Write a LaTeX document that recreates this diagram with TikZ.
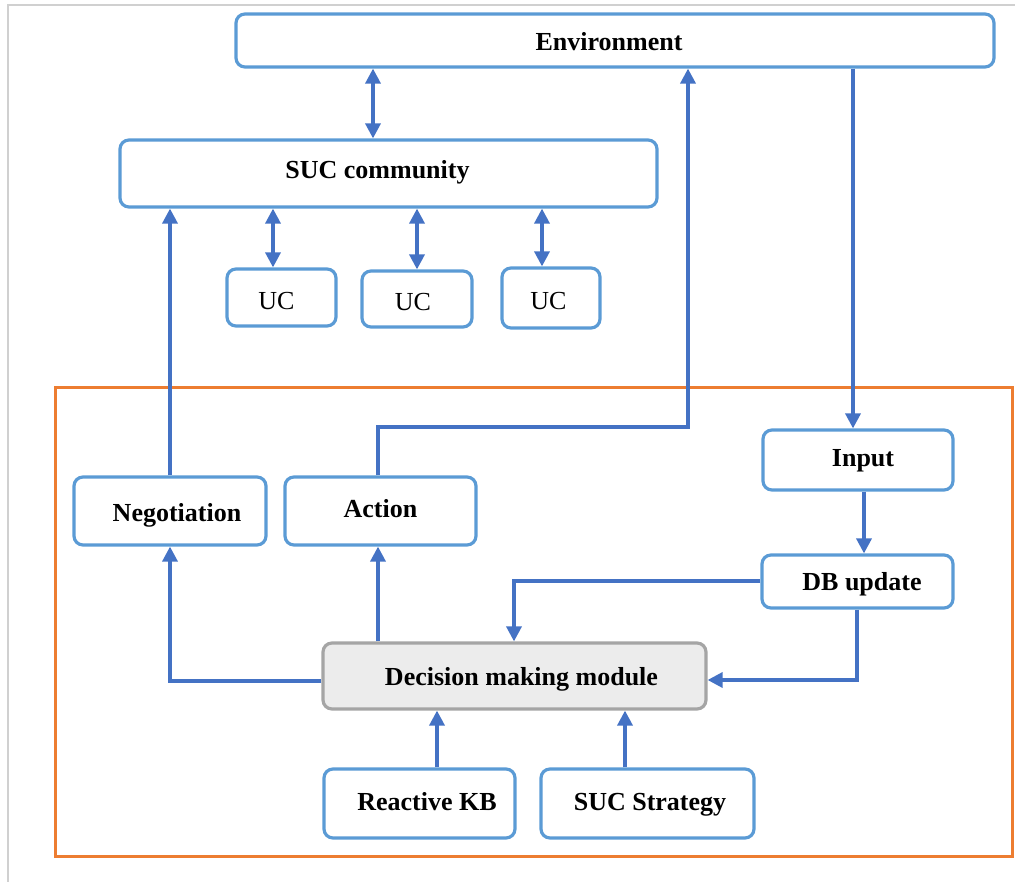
\documentclass[tikz,border=0pt]{standalone}
\usepackage{fontspec}
\setmainfont{Liberation Serif}
\usetikzlibrary{arrows.meta}
\definecolor{boxblue}{HTML}{5B9BD5}
\definecolor{arrblue}{HTML}{4472C4}
\definecolor{orng}{HTML}{ED7D31}
\definecolor{frame}{HTML}{D0D0D0}
\definecolor{decfill}{HTML}{ECECEC}
\definecolor{decdraw}{HTML}{A5A5A5}
\tikzset{
  box/.style={draw=boxblue, line width=3.2pt, rounded corners=9pt, fill=white, inner sep=0pt,
    text height=18pt, text depth=6pt,
    font=\fontsize{26}{30}\selectfont\bfseries},
  ucbox/.style={box, font=\fontsize{26}{30}\selectfont},
  decbox/.style={box, draw=decdraw, fill=decfill},
  arr/.style={draw=arrblue, line width=3.4pt, -{Triangle[length=15pt,width=15pt]}},
  darr/.style={draw=arrblue, line width=3.4pt, {Triangle[length=15pt,width=15pt]}-{Triangle[length=15pt,width=15pt]}}
}
\newcommand{\shiftxt}[3]{\hspace*{#1}\raisebox{#2}{#3}}
\begin{document}
\begin{tikzpicture}[x=1pt,y=-1pt]
\useasboundingbox (0,0) rectangle (1015,882);
% outer gray frame
\draw[frame, line width=2.5pt] (8,882) -- (8,5) -- (1015,5);
% orange agent boundary
\draw[orng, line width=3pt] (55,388) rectangle (1012,856);

% boxes
\node[box, minimum width=758pt, minimum height=53pt] (env) at (615,40.5) {\shiftxt{0pt}{-4pt}{Environment}\hspace*{12pt}};
\node[box, minimum width=537pt, minimum height=67pt] (suc) at (388.5,173.5) {\shiftxt{0pt}{1pt}{SUC community}\hspace*{22pt}};
\node[ucbox, minimum width=109pt, minimum height=57pt] (uc1) at (281.5,297.5) {\shiftxt{0pt}{-6pt}{UC}\hspace*{10pt}};
\node[ucbox, minimum width=110pt, minimum height=56pt] (uc2) at (417,299) {\shiftxt{0pt}{-5.5pt}{UC}\hspace*{8pt}};
\node[ucbox, minimum width=98pt, minimum height=60pt] (uc3) at (551,298) {\shiftxt{0pt}{-5.5pt}{UC}\hspace*{5pt}};

\node[box, minimum width=192pt, minimum height=68pt] (neg) at (170,511) {\shiftxt{14pt}{-4pt}{Negotiation}};
\node[box, minimum width=191pt, minimum height=68pt] (act) at (380.5,511) {\shiftxt{0pt}{0pt}{Action}};
\node[box, minimum width=190pt, minimum height=60pt] (inp) at (858,460) {\shiftxt{10pt}{0pt}{Input}};
\node[box, minimum width=191pt, minimum height=53pt] (db) at (857.5,581.5) {\shiftxt{9pt}{-3pt}{DB update}};
\node[decbox, minimum width=383pt, minimum height=66pt] (dec) at (514.5,676) {\shiftxt{14pt}{-3.5pt}{Decision making module}};
\node[box, minimum width=191pt, minimum height=69pt] (rkb) at (419.5,803.5) {\shiftxt{15pt}{-0.7pt}{Reactive KB}};
\node[box, minimum width=213pt, minimum height=69pt] (sst) at (647.5,803.5) {\shiftxt{5pt}{-1pt}{SUC Strategy}};

% x positions of connectors
\coordinate (x373) at (373,0);
\coordinate (x273) at (273,0);
\coordinate (x542) at (542,0);
\coordinate (x170) at (170,0);
\coordinate (x378) at (378,0);
\coordinate (x688) at (688,0);
\coordinate (x853) at (853,0);
\coordinate (x864) at (864,0);
\coordinate (x514) at (514,0);
\coordinate (x857) at (857,0);
\coordinate (x437) at (437,0);
\coordinate (x625) at (625,0);
\coordinate (bendA) at (688,427);
\coordinate (bendDB) at (857,680);
\coordinate (bendDec) at (170,681);

% connectors
\draw[darr] (suc.north -| x373) -- (env.south -| x373);
\draw[darr] (uc1.north -| x273) -- (suc.south -| x273);
\draw[darr] (uc2.north) -- (suc.south -| uc2.north);
\draw[darr] (uc3.north -| x542) -- (suc.south -| x542);

\draw[arr] (neg.north -| x170) -- (suc.south -| x170);
\draw[arr] (act.north -| x378) |- (bendA) -- (env.south -| x688);
\draw[arr] (env.south -| x853) -- (inp.north -| x853);
\draw[arr] (inp.south -| x864) -- (db.north -| x864);
\draw[arr] (db.west |- 0,581) -| (dec.north -| x514);
\draw[arr] (db.south -| x857) -- (bendDB) -- (dec.east |- bendDB);
\draw[arr] (dec.west |- bendDec) -- (bendDec) -- (neg.south -| x170);
\draw[arr] (dec.north -| x378) -- (act.south -| x378);
\draw[arr] (rkb.north -| x437) -- (dec.south -| x437);
\draw[arr] (sst.north -| x625) -- (dec.south -| x625);
\end{tikzpicture}
\end{document}
